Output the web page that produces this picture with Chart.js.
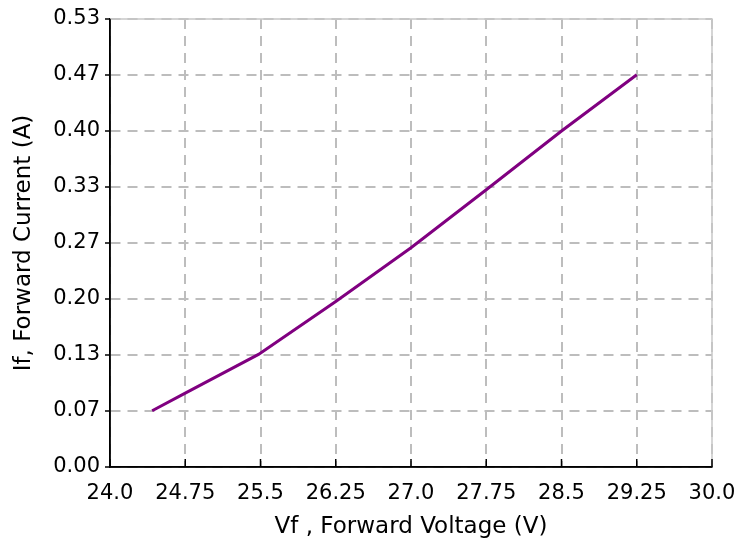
<!DOCTYPE html>
<html lang="en">
<head>
    <meta charset="UTF-8">
    <title>Forward Current vs Forward Voltage</title>
    <script src="https://cdn.jsdelivr.net/npm/chart.js"></script>
    <style>
        body {
            margin: 0;
            background-color: #ffffff;
        }
        #chartContainer {
            width: 738px;
            height: 544px;
            position: relative;
        }
    </style>
</head>
<body>
    <div id="chartContainer">
        <canvas id="ivChart"></canvas>
    </div>

<script>
    // values
    var voltage = [24.42, 24.75, 25.48, 26.25, 27.0, 27.75, 28.5, 29.25];
    var current = [0.067, 0.088, 0.134, 0.197, 0.261, 0.330, 0.400, 0.467];

    var xTickValues = [24.0, 24.75, 25.5, 26.25, 27.0, 27.75, 28.5, 29.25, 30.0];
    var xTickLabels = ['24.0', '24.75', '25.5', '26.25', '27.0', '27.75', '28.5', '29.25', '30.0'];
    var yTickValues = [0, 0.0667, 0.1333, 0.2, 0.2667, 0.3333, 0.4, 0.4667, 0.5333];
    var yTickLabels = ['0.00', '0.07', '0.13', '0.20', '0.27', '0.33', '0.40', '0.47', '0.53'];

    var points = voltage.map(function (v, i) {
        return { x: v, y: current[i] };
    });

    // light frame on top/right, black axes, inward ticks on the x axis
    var framePlugin = {
        id: 'frame',
        beforeDatasetsDraw: function (chart) {
            var a = chart.chartArea;
            var ctx = chart.ctx;
            ctx.save();
            ctx.strokeStyle = '#c8c8c8';
            ctx.lineWidth = 1.5;
            ctx.beginPath();
            ctx.moveTo(a.left, a.top);
            ctx.lineTo(a.right, a.top);
            ctx.lineTo(a.right, a.bottom);
            ctx.stroke();

            ctx.strokeStyle = '#000000';
            ctx.beginPath();
            ctx.moveTo(a.left, a.top);
            ctx.lineTo(a.left, a.bottom);
            ctx.lineTo(a.right, a.bottom);
            ctx.stroke();

            var xs = chart.scales.x;
            xTickValues.forEach(function (v) {
                var px = xs.getPixelForValue(v);
                ctx.beginPath();
                ctx.moveTo(px, a.bottom);
                ctx.lineTo(px, a.bottom - 8);
                ctx.stroke();
            });
            ctx.restore();
        }
    };

    Chart.defaults.font.family = '"DejaVu Sans", sans-serif';
    Chart.defaults.color = '#000000';

    var ctx = document.getElementById('ivChart').getContext('2d');
    var ivChart = new Chart(ctx, {
        type: 'line',
        data: {
            datasets: [{
                label: 'If',
                data: points,
                borderColor: '#800080',
                borderWidth: 3,
                pointRadius: 0,
                tension: 0,
                fill: false
            }]
        },
        options: {
            responsive: true,
            maintainAspectRatio: false,
            animation: false,
            layout: {
                padding: { top: 19, right: 26, left: 0, bottom: 0 }
            },
            plugins: {
                legend: { display: false },
                tooltip: { enabled: false }
            },
            scales: {
                x: {
                    type: 'linear',
                    min: 24,
                    max: 30,
                    afterBuildTicks: function (scale) {
                        scale.ticks = xTickValues.map(function (v) { return { value: v }; });
                    },
                    afterFit: function (scale) {
                        scale.height = 77;
                        scale.paddingLeft = 0;
                        scale.paddingRight = 0;
                    },
                    ticks: {
                        autoSkip: false,
                        maxRotation: 0,
                        padding: 14,
                        font: { size: 21 },
                        callback: function (value, index) {
                            return xTickLabels[index];
                        }
                    },
                    grid: {
                        color: '#bdbdbd',
                        lineWidth: 2,
                        drawTicks: false
                    },
                    border: {
                        color: '#000000',
                        width: 1.5,
                        dash: [10, 7]
                    },
                    title: {
                        display: true,
                        text: 'Vf , Forward Voltage (V)',
                        font: { size: 23 },
                        padding: { top: 0, bottom: 3 }
                    }
                },
                y: {
                    min: 0,
                    max: 0.5333,
                    afterBuildTicks: function (scale) {
                        scale.ticks = yTickValues.map(function (v) { return { value: v }; });
                    },
                    afterFit: function (scale) {
                        scale.width = 110;
                        scale.paddingTop = 0;
                        scale.paddingBottom = 0;
                    },
                    ticks: {
                        autoSkip: false,
                        padding: 5,
                        font: { size: 21 },
                        callback: function (value, index) {
                            return yTickLabels[index];
                        }
                    },
                    grid: {
                        color: '#bdbdbd',
                        lineWidth: 2,
                        tickLength: 5,
                        tickColor: '#000000',
                        tickWidth: 1.5
                    },
                    border: {
                        color: '#000000',
                        width: 1.5,
                        dash: [10, 7]
                    },
                    title: {
                        display: true,
                        text: 'If, Forward Current (A)',
                        font: { size: 23 },
                        padding: { top: 10, bottom: 0 }
                    }
                }
            }
        },
        plugins: [framePlugin]
    });
</script>
</body>
</html>
